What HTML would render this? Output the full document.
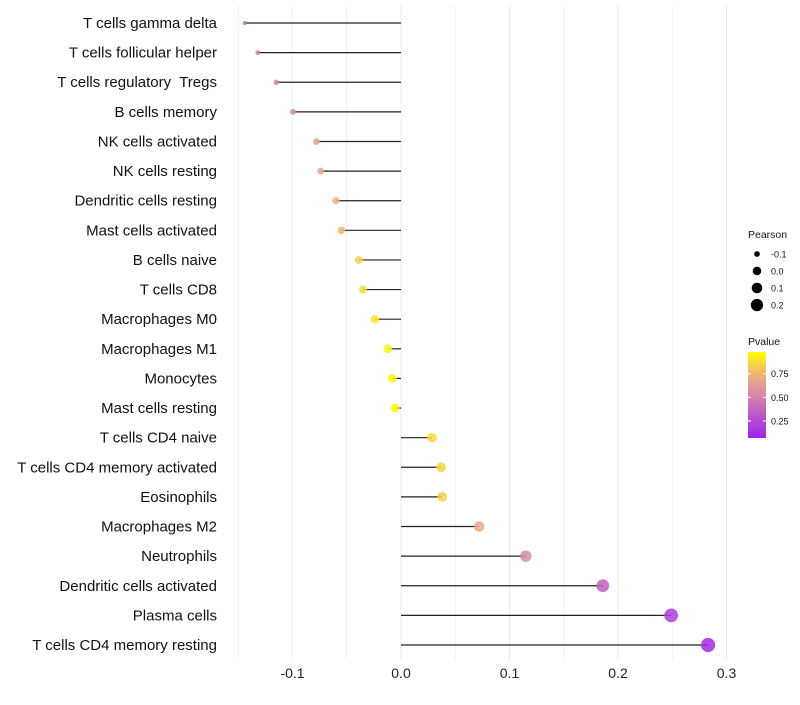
<!DOCTYPE html>
<html><head><meta charset="utf-8"><style>
body{margin:0;background:#fff;font-family:"Liberation Sans",sans-serif}
text{white-space:pre}
</style></head><body>
<svg id="c" width="800" height="700" xmlns="http://www.w3.org/2000/svg"></svg>
<script>
const categories=["T cells gamma delta","T cells follicular helper","T cells regulatory  Tregs","B cells memory","NK cells activated","NK cells resting","Dendritic cells resting","Mast cells activated","B cells naive","T cells CD8","Macrophages M0","Macrophages M1","Monocytes","Mast cells resting","T cells CD4 naive","T cells CD4 memory activated","Eosinophils","Macrophages M2","Neutrophils","Dendritic cells activated","Plasma cells","T cells CD4 memory resting"];
const pearson=[-0.144,-0.132,-0.115,-0.0995,-0.078,-0.074,-0.060,-0.055,-0.039,-0.035,-0.024,-0.012,-0.008,-0.0055,0.0286,0.037,0.038,0.072,0.115,0.186,0.249,0.283];
const pvalue=[0.42,0.45,0.5,0.55,0.66,0.69,0.75,0.78,0.85,0.87,0.9,0.94,0.96,0.97,0.88,0.85,0.85,0.7,0.55,0.35,0.2,0.12];
const xTicks=[-0.1,0,0.1,0.2,0.3];
const xTickLabels=["-0.1","0.0","0.1","0.2","0.3"];
const sizeLegend=[-0.1,0.0,0.1,0.2];
const pTicks=[0.25,0.5,0.75];

const svg=document.getElementById('c');const NS="http://www.w3.org/2000/svg";
function X(v){return 401+v*1085;}
function Y(i){return 23+i*(622/21);}
function R(v){return Math.sqrt(Math.max(2,20+110*v));}
function P(p){return 438-(p-0.07)/(0.91)*86;}
function col(p){const t=Math.max(0,Math.min(1,(p-0.07)/0.91));
 const stops=[[0,[160,32,240]],[0.5,[214,135,170]],[0.75,[240,180,120]],[1,[255,255,0]]];
 for(let k=1;k<stops.length;k++){if(t<=stops[k][0]){const a=stops[k-1],b=stops[k];const u=(t-a[0])/(b[0]-a[0]);
 return 'rgb('+a[1].map((c,j)=>Math.round(c+(b[1][j]-c)*u)).join(',')+')';}}return 'rgb(255,255,0)';}
function el(t,a,txt){const e=document.createElementNS(NS,t);for(const k in a)e.setAttribute(k,a[k]);if(txt!=null)e.textContent=txt;svg.appendChild(e);return e;}
for(let v=-0.15;v<=0.31;v+=0.05){const g=el('line',{x1:X(v),x2:X(v),y1:5,y2:660,stroke:'#ebebeb','stroke-width':Math.abs((v*20)%2)>0.5?0.6:1});
}
xTicks.forEach((v,i)=>{const t=el('text',{x:X(v),y:678,'text-anchor':'middle','font-size':14,fill:'#222'},xTickLabels[i]);
});
categories.forEach((c,i)=>{
 const t=el('text',{x:217,y:Y(i)+5,'text-anchor':'end','font-size':15,fill:'#111'},c);
 
 const l=el('line',{x1:X(0),x2:X(pearson[i]),y1:Y(i),y2:Y(i),stroke:'#222','stroke-width':1.2});
 
 const d=el('circle',{cx:X(pearson[i]),cy:Y(i),r:R(pearson[i]),fill:col(pvalue[i]),'fill-opacity':0.85});
 
});
let t=el('text',{x:748,y:238,'font-size':10.5,fill:'#111'},'Pearson');
sizeLegend.forEach((v,i)=>{const y=254+i*17;
 const c=el('circle',{cx:757,cy:y,r:R(v)*0.95,fill:'#000'});
 const s=el('text',{x:771,y:y+3.5,'font-size':9,fill:'#111'},v.toFixed(1));});
t=el('text',{x:748,y:345,'font-size':10.5,fill:'#111'},'Pvalue');
const defs=el('defs',{});const lg=document.createElementNS(NS,'linearGradient');lg.setAttribute('id','g');lg.setAttribute('x1',0);lg.setAttribute('y1',1);lg.setAttribute('x2',0);lg.setAttribute('y2',0);defs.appendChild(lg);
for(let k=0;k<=10;k++){const s=document.createElementNS(NS,'stop');s.setAttribute('offset',k/10);s.setAttribute('stop-color',col(0.07+0.91*k/10));lg.appendChild(s);}
const bar=el('rect',{x:748,y:352,width:18,height:86,fill:'url(#g)'});
pTicks.forEach(p=>{const y=P(p);el('line',{x1:748,x2:751,y1:y,y2:y,stroke:'#fff'});el('line',{x1:763,x2:766,y1:y,y2:y,stroke:'#fff'});
 const s=el('text',{x:771,y:y+3.5,'font-size':9,fill:'#111'},p.toFixed(2));});
</script>
</body></html>
